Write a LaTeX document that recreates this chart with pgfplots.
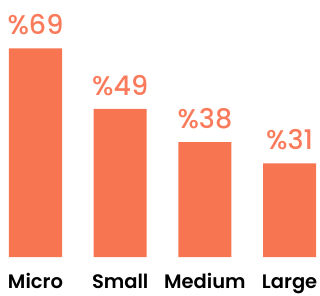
\documentclass[border=0pt]{standalone}
\usepackage{pgfplots}
\pgfplotsset{compat=1.18}
\usepackage{fontspec}
\setmainfont{Poppins}
\newfontfamily\pmed{Poppins Medium}
\newfontfamily\psemi{Poppins SemiBold}
\definecolor{barc}{HTML}{F87552}
\definecolor{txtc}{HTML}{FA7B5B}
\begin{document}
\begin{tikzpicture}
\useasboundingbox (0,-38pt) rectangle (320pt,257pt);
\begin{axis}[
  scale only axis,
  width=320pt, height=257pt,
  xmin=-0.419, xmax=3.359,
  ymin=0, ymax=85,
  axis line style={draw=none},
  ytick=\empty,
  xtick=data,
  xticklabels={Micro,Small,Medium,Large},
  major tick length=0pt,
  xticklabel style={anchor=base, yshift=-31pt, inner sep=0pt, font=\psemi\fontsize{19.5}{24}\selectfont, text=black},
  ybar, bar width=0.626,
  /pgf/number format/assume math mode=true,
  nodes near coords={\%\pgfmathprintnumber{\pgfplotspointmeta}},
  nodes near coords style={anchor=south, yshift=13pt, inner sep=0pt, font=\pmed\fontsize{27}{32}\selectfont, text=txtc},
  clip=false,
]
\addplot[fill=barc, draw=none] coordinates {(0,69) (1,49) (2,38) (3,31)};
\end{axis}
\end{tikzpicture}
\end{document}
